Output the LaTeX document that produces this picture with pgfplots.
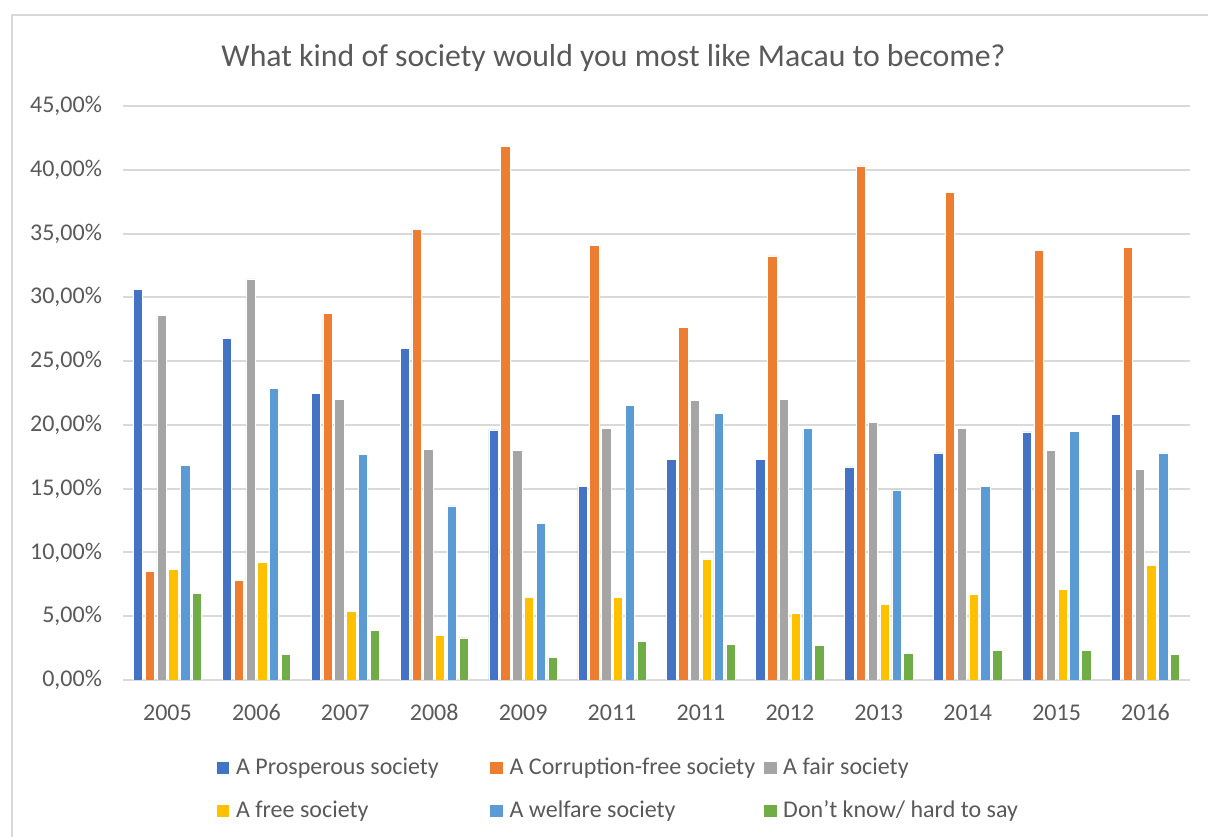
\documentclass[border=0pt]{standalone}
\usepackage{pgfplots}
\pgfplotsset{compat=1.18}
\usepackage{fontspec}
\setmainfont{Carlito}

\definecolor{cProsp}{HTML}{4472C4}
\definecolor{cCorr}{HTML}{ED7D31}
\definecolor{cFair}{HTML}{A5A5A5}
\definecolor{cFree}{HTML}{FFC000}
\definecolor{cWelf}{HTML}{5B9BD5}
\definecolor{cDK}{HTML}{70AD47}
\definecolor{txt}{HTML}{595959}
\definecolor{gridc}{HTML}{D9D9D9}
\definecolor{framec}{HTML}{D9D9D9}

% survey shares (%), one row per survey wave
\pgfplotstableread{
x  prosp  corr   fair   free  welf   dk
0  30.65  8.50   28.60  8.70  16.80  6.80
1  26.75  7.80   31.45  9.20  22.85  2.00
2  22.45  28.75  22.00  5.40  17.70  3.90
3  26.00  35.35  18.10  3.50  13.65  3.30
4  19.60  41.85  18.00  6.50  12.30  1.80
5  15.20  34.05  19.70  6.50  21.50  3.00
6  17.30  27.65  21.90  9.50  20.90  2.80
7  17.30  33.25  22.00  5.20  19.70  2.70
8  16.70  40.30  20.20  5.90  14.90  2.10
9  17.80  38.25  19.70  6.70  15.20  2.30
10 19.45  33.65  18.00  7.10  19.50  2.30
11 20.80  33.90  16.50  9.00  17.80  2.00
}\surveydata

\begin{document}
\begin{tikzpicture}
\path[use as bounding box] (0bp,0bp) rectangle (604bp,418.5bp);
% chart frame (left and top edges)
\draw[framec, line width=0.8bp] (6bp,0bp) -- (6bp,411bp) -- (604bp,411bp);

\node[anchor=base, text=txt, font=\fontsize{15.9bp}{19bp}\selectfont]
  at (306.75bp,385bp) {What kind of society would you most like Macau to become?};

\begin{axis}[
  at={(61.5bp,78.5bp)}, anchor=south west,
  scale only axis,
  width=533.5bp, height=287bp,
  xmin=-0.5, xmax=11.5,
  ymin=0, ymax=45,
  ytick={0,5,...,45},
  yticklabels={{0,00\%},{5,00\%},{10,00\%},{15,00\%},{20,00\%},{25,00\%},{30,00\%},{35,00\%},{40,00\%},{45,00\%}},
  xtick={0,...,11},
  xticklabels={2005,2006,2007,2008,2009,2011,2011,2012,2013,2014,2015,2016},
  /pgf/number format/assume math mode=true,
  tick style={draw=none},
  ymajorgrids,
  grid style={gridc, line width=1bp},
  axis line style={draw=none},
  ticklabel style={text=txt, font=\fontsize{12bp}{14bp}\selectfont},
  yticklabel style={anchor=east, xshift=-7bp},
  xticklabel style={yshift=-4.5bp},
  ybar, bar width=0.105,
  every axis plot/.append style={draw=white, line width=0.3bp},
  legend columns=3,
  legend cell align=left,
  legend style={
    draw=none, fill=none, inner sep=0pt,
    at={(0.0872,-0.191)}, anchor=west,
    nodes={inner sep=0pt, text=txt, font=\fontsize{12bp}{14bp}\selectfont, text height=8.5bp, text depth=2.5bp},
    column sep=0pt, row sep=10.5bp,
  },
  legend image code/.code={
    \path (0bp,0bp) -- (9.5bp,0bp);
    \fill[#1, draw=none] (0bp,-3.1bp) rectangle (6.3bp,3.2bp);
  },
]
% horizontal baseline
\draw[gridc, line width=1bp] (axis cs:-0.5,0) -- (axis cs:11.5,0);

\addplot[fill=cProsp, bar shift=-0.332] table[x=x, y=prosp] {\surveydata};
\addplot[fill=cCorr,  bar shift=-0.199] table[x=x, y=corr]  {\surveydata};
\addplot[fill=cFair,  bar shift=-0.066] table[x=x, y=fair]  {\surveydata};
\addplot[fill=cFree,  bar shift=0.066]  table[x=x, y=free]  {\surveydata};
\addplot[fill=cWelf,  bar shift=0.199]  table[x=x, y=welf]  {\surveydata};
\addplot[fill=cDK,    bar shift=0.332]  table[x=x, y=dk]    {\surveydata};

\legend{\makebox[127bp][l]{A Prosperous society},
        \makebox[127bp][l]{A Corruption-free society},
        \makebox[127bp][l]{A fair society},
        \makebox[127bp][l]{A free society},
        \makebox[127bp][l]{A welfare society},
        \makebox[127bp][l]{Don’t know/ hard to say}}
\end{axis}
\end{tikzpicture}
\end{document}
